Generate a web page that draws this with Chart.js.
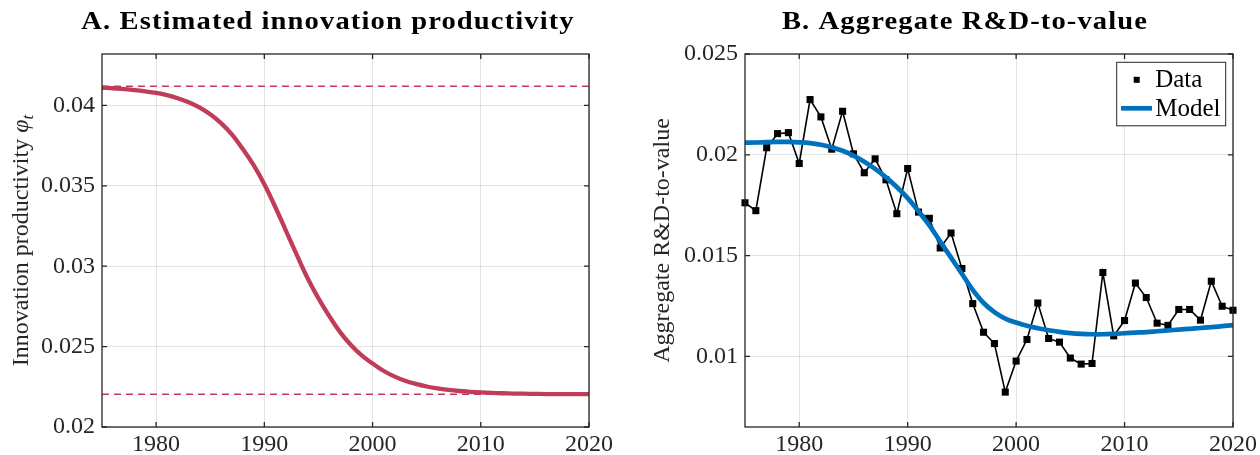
<!DOCTYPE html>
<html>
<head>
<meta charset="utf-8">
<script src="https://cdn.jsdelivr.net/npm/chart.js@4.4.1/dist/chart.umd.min.js"></script>
<style>
    html, body { margin: 0; padding: 0; background: #fff; }
    #wrap { position: relative; width: 1260px; height: 455px; overflow: hidden; }
    #wrap canvas { position: absolute; top: 0; }
</style>
</head>
<body>
<div id="wrap">
    <canvas id="chartA" width="630" height="455" style="left:0"></canvas>
    <canvas id="chartB" width="630" height="455" style="left:630px"></canvas>
</div>
<script>
const years = [1975, 1976, 1977, 1978, 1979, 1980, 1981, 1982, 1983, 1984,
    1985, 1986, 1987, 1988, 1989, 1990, 1991, 1992, 1993, 1994,
    1995, 1996, 1997, 1998, 1999, 2000, 2001, 2002, 2003, 2004,
    2005, 2006, 2007, 2008, 2009, 2010, 2011, 2012, 2013, 2014,
    2015, 2016, 2017, 2018, 2019, 2020];

// Panel A: estimated innovation productivity
const phiEstimated = [0.04110, 0.04107, 0.04102, 0.04096, 0.04088, 0.04078, 0.04064, 0.04045, 0.0402, 0.03988,
    0.03945, 0.0389, 0.0382, 0.0373, 0.0363, 0.0351, 0.0337, 0.0322, 0.0307, 0.02925,
    0.0280, 0.0269, 0.0259, 0.0251, 0.02445, 0.02395, 0.0235, 0.02315, 0.02288, 0.02268,
    0.02252, 0.0224, 0.02231, 0.02224, 0.02219, 0.02215, 0.02212, 0.0221, 0.02208, 0.02207,
    0.02206, 0.02205, 0.02205, 0.02204, 0.02204, 0.02204];
const phiBounds = [0.0412, 0.02203];

// Panel B: aggregate R&D-to-value
const rdData = [0.01762, 0.01723, 0.02035, 0.02105, 0.0211, 0.01957, 0.02274, 0.02188, 0.02028, 0.02216,
    0.02005, 0.01911, 0.0198, 0.01876, 0.01708, 0.01932, 0.01716, 0.01685, 0.01538, 0.01612,
    0.01436, 0.01262, 0.0112, 0.01064, 0.00823, 0.00977, 0.01084, 0.01265, 0.01089, 0.01071,
    0.00992, 0.00962, 0.00965, 0.01416, 0.01102, 0.01178, 0.01364, 0.01292, 0.01165, 0.01154,
    0.01233, 0.01233, 0.0118, 0.01373, 0.01249, 0.01229];
const rdModel = [0.0206, 0.02061, 0.02063, 0.02064, 0.02064, 0.02062, 0.02058, 0.0205, 0.02038, 0.0202,
    0.01996, 0.01966, 0.0193, 0.01888, 0.0184, 0.01785, 0.0172, 0.0165, 0.0157, 0.0149,
    0.0141, 0.0133, 0.01265, 0.0122, 0.01188, 0.01168, 0.01152, 0.0114, 0.0113, 0.01122,
    0.01116, 0.01112, 0.0111, 0.0111, 0.01112, 0.01115, 0.01118, 0.01121, 0.01125, 0.01129,
    0.01133, 0.01137, 0.01141, 0.01145, 0.0115, 0.01155];

const xTicks = [1980, 1990, 2000, 2010, 2020];
const yTicksA = [0.02, 0.025, 0.03, 0.035, 0.04];
const yLabelsA = ['0.02', '0.025', '0.03', '0.035', '0.04'];
const yTicksB = [0.01, 0.015, 0.02, 0.025];
const yLabelsB = ['0.01', '0.015', '0.02', '0.025'];

const axisColor = '#262626';
const gridColor = 'rgba(38, 38, 38, 0.13)';
const serif = '"Liberation Serif", "Times New Roman", serif';
const red = '#c13c58';
const blue = '#0072bd';

const points = (vals) => years.map((y, i) => ({ x: y, y: vals[i] }));
const flat = (v) => [{ x: years[0], y: v }, { x: years[years.length - 1], y: v }];

// titre du panneau (gras élargi)
const panelTitle = {
    id: 'panelTitle',
    afterDraw(chart, args, opts) {
        const ctx = chart.ctx;
        ctx.save();
        ctx.translate(opts.x, opts.y);
        ctx.scale(1.1, 1);
        ctx.font = 'bold 26px ' + serif;
        ctx.letterSpacing = '1px';
        ctx.fillStyle = '#000';
        ctx.textAlign = 'center';
        ctx.textBaseline = 'alphabetic';
        ctx.fillText(opts.text, 0, 0);
        ctx.restore();
    }
};

// cadre et graduations vers l'intérieur
const boxTicks = {
    id: 'boxTicks',
    afterDraw(chart) {
        const { ctx, chartArea: a } = chart;
        const sx = chart.scales.x, sy = chart.scales.y;
        ctx.save();
        ctx.strokeStyle = axisColor;
        ctx.lineWidth = 1.3;
        ctx.strokeRect(a.left, a.top, a.right - a.left, a.bottom - a.top);
        ctx.beginPath();
        sx.ticks.forEach(t => {
            const px = sx.getPixelForValue(t.value);
            ctx.moveTo(px, a.bottom); ctx.lineTo(px, a.bottom - 5);
            ctx.moveTo(px, a.top); ctx.lineTo(px, a.top + 5);
        });
        sy.ticks.forEach(t => {
            const py = sy.getPixelForValue(t.value);
            ctx.moveTo(a.left, py); ctx.lineTo(a.left + 5, py);
            ctx.moveTo(a.right, py); ctx.lineTo(a.right - 5, py);
        });
        ctx.stroke();
        ctx.restore();
    }
};

// étiquette de l'axe y avec phi indice t
const phiLabel = {
    id: 'phiLabel',
    afterDraw(chart, args, opts) {
        if (!opts.display) return;
        const ctx = chart.ctx;
        const cy = (chart.chartArea.top + chart.chartArea.bottom) / 2;
        const main = 'Innovation productivity ';
        ctx.save();
        ctx.translate(opts.x, cy);
        ctx.rotate(-Math.PI / 2);
        ctx.fillStyle = axisColor;
        ctx.textBaseline = 'alphabetic';
        ctx.textAlign = 'left';
        ctx.font = '24px ' + serif;
        const w1 = ctx.measureText(main).width;
        ctx.font = 'italic 24px ' + serif;
        const w2 = ctx.measureText('φ').width;
        ctx.font = 'italic 17px ' + serif;
        const w3 = ctx.measureText('t').width;
        let x = -(w1 + w2 + w3) / 2;
        ctx.font = '24px ' + serif;
        ctx.fillText(main, x, 0);
        x += w1;
        ctx.font = 'italic 24px ' + serif;
        ctx.fillText('φ', x, 0);
        x += w2;
        ctx.font = 'italic 17px ' + serif;
        ctx.fillText('t', x, 5);
        ctx.restore();
    }
};

// légende encadrée dans le graphique
const boxLegend = {
    id: 'boxLegend',
    afterDraw(chart, args, opts) {
        if (!opts.display) return;
        const { ctx, chartArea: a } = chart;
        const w = 109, h = 63.5;
        const left = a.right - 7.3 - w, top = a.top + 8.3;
        ctx.save();
        ctx.fillStyle = '#fff';
        ctx.fillRect(left, top, w, h);
        ctx.strokeStyle = axisColor;
        ctx.lineWidth = 1;
        ctx.strokeRect(left, top, w, h);
        const ds = chart.data.datasets;
        ctx.font = '25px ' + serif;
        ctx.textBaseline = 'middle';
        // Data
        let ry = top + 17.5;
        ctx.fillStyle = ds[0].pointBackgroundColor;
        ctx.fillRect(left + 20 - 3, ry - 3, 6, 6);
        ctx.fillStyle = '#000';
        ctx.fillText(ds[0].label, left + 38.5, ry + 1);
        // Model
        ry = top + 46;
        ctx.strokeStyle = ds[1].borderColor;
        ctx.lineWidth = ds[1].borderWidth;
        ctx.beginPath();
        ctx.moveTo(left + 4.3, ry);
        ctx.lineTo(left + 35.3, ry);
        ctx.stroke();
        ctx.fillText(ds[1].label, left + 38.5, ry + 1);
        ctx.restore();
    }
};

function scaleOptions(yMin, yMax, yTicks, yLabels, yWidth, yTitle) {
    return {
        x: {
            type: 'linear',
            min: years[0],
            max: years[years.length - 1],
            afterBuildTicks: s => { s.ticks = xTicks.map(v => ({ value: v })); },
            afterFit: s => { s.height = 28; },
            grid: { color: gridColor, lineWidth: 1, drawTicks: false },
            border: { display: false },
            ticks: {
                color: axisColor, font: { family: serif, size: 24 }, padding: 3,
                maxRotation: 0, autoSkip: false, callback: v => String(v)
            }
        },
        y: {
            type: 'linear',
            min: yMin,
            max: yMax,
            afterBuildTicks: s => { s.ticks = yTicks.map(v => ({ value: v })); },
            afterFit: s => { s.width = yWidth; },
            grid: { color: gridColor, lineWidth: 1, drawTicks: false },
            border: { display: false },
            ticks: {
                color: axisColor, font: { family: serif, size: 24 }, padding: 7,
                autoSkip: false, callback: (v, i) => yLabels[i]
            },
            title: yTitle
        }
    };
}

const ctxA = document.getElementById('chartA').getContext('2d');
const chartA = new Chart(ctxA, {
    type: 'line',
    data: {
        datasets: [{
            label: 'phi',
            data: points(phiEstimated),
            borderColor: red,
            borderWidth: 4.3,
            pointRadius: 0,
            tension: 0.4,
            clip: false,
            order: 0
        }, {
            label: 'upper',
            data: flat(phiBounds[0]),
            borderColor: red,
            borderWidth: 1.5,
            borderDash: [7, 5],
            pointRadius: 0,
            order: 1
        }, {
            label: 'lower',
            data: flat(phiBounds[1]),
            borderColor: red,
            borderWidth: 1.5,
            borderDash: [7, 5],
            pointRadius: 0,
            order: 1
        }]
    },
    options: {
        responsive: false,
        devicePixelRatio: 1,
        animation: false,
        layout: { padding: { top: 54, right: 41, bottom: 0, left: 0 } },
        scales: scaleOptions(0.02, 0.0432, yTicksA, yLabelsA, 102, { display: false }),
        plugins: {
            legend: { display: false },
            tooltip: { enabled: false },
            panelTitle: { text: 'A. Estimated innovation productivity', x: 328, y: 29 },
            phiLabel: { display: true, x: 28 },
            boxLegend: { display: false }
        }
    },
    plugins: [boxTicks, panelTitle, phiLabel, boxLegend]
});

const ctxB = document.getElementById('chartB').getContext('2d');
const chartB = new Chart(ctxB, {
    type: 'line',
    data: {
        datasets: [{
            label: 'Data',
            data: points(rdData),
            borderColor: '#000',
            borderWidth: 1.6,
            pointStyle: 'rect',
            pointRadius: 5,
            pointBackgroundColor: '#000',
            pointBorderWidth: 0,
            tension: 0,
            clip: false,
            order: 1
        }, {
            label: 'Model',
            data: points(rdModel),
            borderColor: blue,
            borderWidth: 4.7,
            pointRadius: 0,
            tension: 0.4,
            clip: false,
            order: 0
        }]
    },
    options: {
        responsive: false,
        devicePixelRatio: 1,
        animation: false,
        layout: { padding: { top: 54, right: 27, bottom: 0, left: 0 } },
        scales: scaleOptions(0.0065, 0.025, yTicksB, yLabelsB, 115, {
            display: true,
            text: 'Aggregate R&D-to-value',
            color: axisColor,
            font: { family: serif, size: 24 },
            padding: { top: 18, bottom: 0 }
        }),
        plugins: {
            legend: { display: false },
            tooltip: { enabled: false },
            panelTitle: { text: 'B. Aggregate R&D-to-value', x: 335, y: 29 },
            phiLabel: { display: false },
            boxLegend: { display: true }
        }
    },
    plugins: [boxTicks, panelTitle, phiLabel, boxLegend]
});
</script>
</body>
</html>
